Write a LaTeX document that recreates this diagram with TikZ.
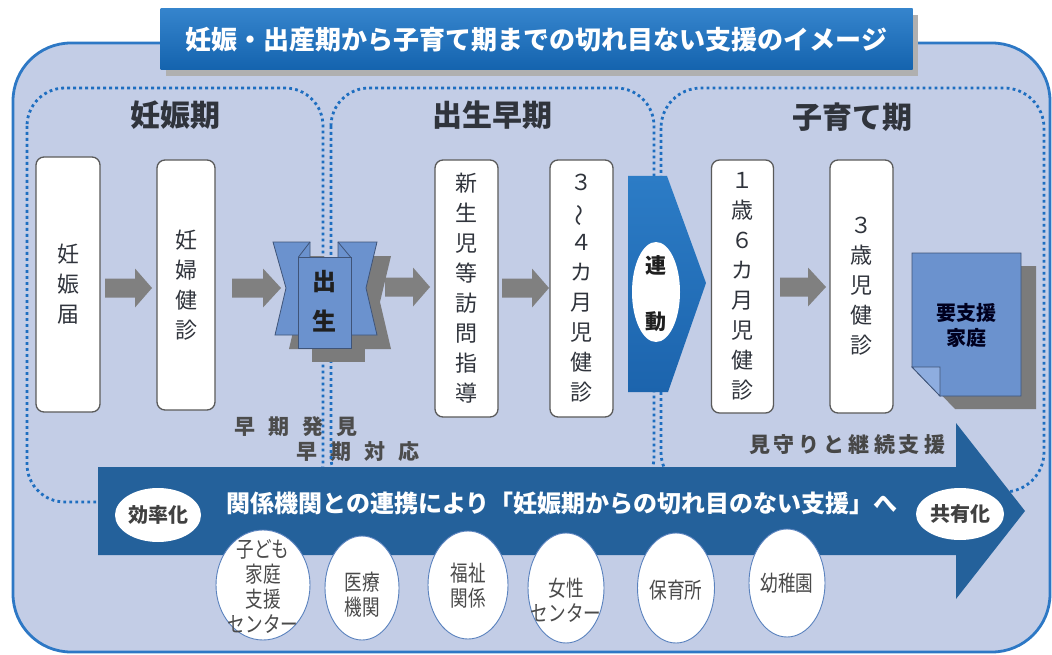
\documentclass[tikz,border=0pt]{standalone}
\usepackage{fontspec}
\usepackage{graphicx}
\setmainfont{Noto Sans CJK JP}
\newfontfamily\condjp[FakeStretch=0.8]{Noto Sans CJK JP}
\usetikzlibrary{shapes.geometric,calc}
\definecolor{bglight}{HTML}{C3CDE6}
\definecolor{outerblue}{HTML}{2D78C5}
\definecolor{dotblue}{HTML}{1E6EC0}
\definecolor{arrowblue}{HTML}{24619B}
\definecolor{titletop}{HTML}{3584CC}
\definecolor{titlebot}{HTML}{1463AE}
\definecolor{grayarrow}{HTML}{808080}
\definecolor{shapeblue}{HTML}{6B92CE}
\definecolor{shapeline}{HTML}{3F5478}
\definecolor{boxline}{HTML}{5A5A5A}
\definecolor{txtdark}{HTML}{30343C}
\definecolor{shadowgray}{HTML}{7B7B7B}
\definecolor{orgline}{HTML}{5A82BE}
\definecolor{orgtext}{HTML}{4A4A4A}
\definecolor{foldblue}{HTML}{8EADDF}
\definecolor{chevtop}{HTML}{2C7CC6}
\definecolor{chevbot}{HTML}{1C64AD}
\newcommand\grayarrow[4]{\fill[grayarrow] (#1,#4-9.5) -- (#2,#4-9.5) -- (#2,#4-19.5) -- (#3,#4) -- (#2,#4+19.5) -- (#2,#4+9.5) -- (#1,#4+9.5) -- cycle;}
\newcommand\ks{\kern4pt}
\newcommand\kw{\kern13pt}
\begin{document}
\begin{tikzpicture}[x=1pt,y=-1pt,
 wbox/.style={draw=boxline, line width=1.3pt, fill=white, rounded corners=8pt, inner sep=0pt, align=center, font=\fontsize{22}{30}\selectfont, text=txtdark},
 phasebox/.style={draw=dotblue, line width=2.8pt, dash pattern=on 2.8pt off 3.2pt},
 ptitle/.style={font=\fontsize{30}{32}\selectfont\bfseries, text=txtdark, inner sep=0pt},
 orgell/.style={ellipse, draw=orgline, line width=0.9pt, fill=white, inner sep=0pt},
 orgtxt/.style={align=center, font=\condjp\fontsize{22}{25}\selectfont, text=orgtext, inner sep=0pt},
 wellipse/.style={ellipse, fill=white, inner sep=0pt},
 boldlabel/.style={font=\fontsize{21}{25}\selectfont\bfseries, text=black!72, inner sep=0pt, align=center},
]
\useasboundingbox (0,0) rectangle (1052,655);
\fill[white] (0,0) rectangle (1052,655);
% outer frame
\draw[line width=2.8pt, draw=outerblue, fill=bglight, rounded corners=58pt] (13,43) rectangle (1050,652);
% title
\fill[shadowgray!60] (166,15) rectangle (918,76);
\node[top color=titletop, bottom color=titlebot, minimum width=752pt, minimum height=61pt, inner sep=0pt, text=white, font=\fontsize{26}{30}\selectfont\bfseries] (title) at (536.5,39.5) {妊娠・出産期から子育て期までの切れ目ない支援のイメージ};
% labels under the dots
\node[boldlabel, text=black!70] (hakken) at (296,427) {早\kw 期\kw 発\kw 見};
\node[boldlabel, text=black!70] (taiou) at (358,452) {早\kw 期\kw 対\kw 応};
\node[font=\fontsize{21}{25}\selectfont\bfseries, text=black!72, inner sep=0pt] (mimamori) at (847,445) {見\ks 守\ks り\ks と\ks 継\ks 続\ks 支\ks 援};
% phase boxes
\draw[phasebox, rounded corners=38pt] (27,88) rectangle (323,502);
\draw[phasebox, rounded corners=38pt] (331,88) rectangle (654,495);
\draw[phasebox, rounded corners=40pt] (661,88) rectangle (1044,492);
\node[ptitle] (p1) at (175,115) {妊娠期};
\node[ptitle] (p2) at (492,115) {出生早期};
\node[ptitle] (p3) at (852,117) {子育て期};
% white boxes
\node[wbox, minimum width=64pt, minimum height=255pt] (b1) at (68,284.5) {妊\\娠\\届};
\node[wbox, minimum width=58pt, minimum height=250pt] (b2) at (186,285) {妊\\婦\\健\\診};
\node[wbox, minimum width=63pt, minimum height=257pt] (b3) at (466.5,288.5) {新\\生\\児\\等\\訪\\問\\指\\導};
\node[wbox, minimum width=63pt, minimum height=257pt] (b4) at (581.5,288.5) {３\\\rotatebox[origin=c]{90}{～}\\４\\カ\\月\\児\\健\\診};
\node[wbox, minimum width=62pt, minimum height=253pt] (b5) at (742.5,286.5) {１\\歳\\６\\カ\\月\\児\\健\\診};
\node[wbox, minimum width=63pt, minimum height=253pt] (b6) at (861.5,286.5) {３\\歳\\児\\健\\診};
% gray arrows
\grayarrow{105}{135}{152}{288}
\grayarrow{232}{263}{281}{288}
\grayarrow{385}{413}{430}{287}
\grayarrow{502}{532}{549}{288}
\grayarrow{780}{808}{826}{287}
% birth shape
\begin{scope}[shift={(14,14)}]
\fill[shadowgray] (273,242) -- (310,242) -- (310,335) -- (275,335) -- (286,288) -- cycle;
\fill[shadowgray] (338,242) -- (377,242) -- (366,288) -- (377,335) -- (338,335) -- cycle;
\fill[shadowgray] (298,257) rectangle (351,348);
\end{scope}
\draw[fill=shapeblue, draw=shapeline, line width=0.8pt] (273,242) -- (310,242) -- (310,335) -- (275,335) -- (286,288) -- cycle;
\draw[fill=shapeblue, draw=shapeline, line width=0.8pt] (338,242) -- (377,242) -- (366,288) -- (377,335) -- (338,335) -- cycle;
\draw[fill=shapeblue, draw=shapeline, line width=0.8pt] (298,257) rectangle (351,348);
\draw[draw=shapeline, line width=0.8pt] (298.5,257) -- (310,242);
\draw[draw=shapeline, line width=0.8pt] (350.5,257) -- (338,242);
\node[font=\fontsize{24}{40}\selectfont\bfseries, align=center, text=black!88, inner sep=0pt] (birth) at (324.5,301) {出\\生};
% rendo chevron
\shade[top color=chevtop, bottom color=chevbot] (628,176) -- (667,176) -- (706,283) -- (668,392) -- (628,392) -- cycle;
\node[wellipse, minimum width=48pt, minimum height=100pt] (rendo) at (656,292) {};
\node[font=\fontsize{21}{56}\selectfont\bfseries, align=center, text=black!88, inner sep=0pt] (rendot) at (656,294) {連\\動};
% family needing support
\fill[shadowgray] (927,266) -- (1036,266) -- (1036,409) -- (955,409) -- (927,380) -- cycle;
\draw[fill=shapeblue, draw=shapeline, line width=0.8pt] (912,253) -- (1021,253) -- (1021,396) -- (940,396) -- (912,367) -- cycle;
\draw[fill=foldblue, draw=shapeline, line width=0.8pt] (912,367) -- (940,367) -- (940,396) -- cycle;
\node[font=\fontsize{20}{25}\selectfont\bfseries, align=center, text=black!70!blue!40!black, inner sep=0pt] (family) at (966,325.5) {要支援\\家庭};
% big arrow
\fill[arrowblue] (98,467) -- (956,467) -- (956,423) -- (1025,511) -- (956,599) -- (956,555) -- (98,555) -- cycle;
\node[text=white, font=\fontsize{24}{26}\selectfont\bfseries, inner sep=0pt] (flow) at (562,503) {関係機関との連携により「妊娠期からの切れ目のない支援」へ};
\node[wellipse, minimum width=86pt, minimum height=54pt] (eff) at (158,515) {};
\node[font=\fontsize{20}{24}\selectfont\bfseries, text=black!75, inner sep=0pt] (efft) at (158,515) {効率化};
\node[wellipse, minimum width=88pt, minimum height=52pt] (share) at (960,514) {};
\node[font=\fontsize{20}{24}\selectfont\bfseries, text=black!75, inner sep=0pt] (sharet) at (960,514) {共有化};
% organisations
\node[orgell, minimum width=94pt, minimum height=110pt] (o1) at (263,585) {};
\node[orgtxt] (o1t) at (263,587) {子ども\\家庭\\支援\\センター};
\node[orgell, minimum width=74pt, minimum height=104pt] (o2) at (362,588) {};
\node[orgtxt] (o2t) at (362,595) {医療\\機関};
\node[orgell, minimum width=80pt, minimum height=108pt] (o3) at (468,585) {};
\node[orgtxt] (o3t) at (468,586) {福祉\\関係};
\node[orgell, minimum width=76pt, minimum height=110pt] (o4) at (566,588) {};
\node[orgtxt] (o4t) at (566,600) {女性\\センター};
\node[orgell, minimum width=77pt, minimum height=110pt] (o5) at (676,588) {};
\node[orgtxt] (o5t) at (676,590) {保育所};
\node[orgell, minimum width=76pt, minimum height=108pt] (o6) at (787,583) {};
\node[orgtxt] (o6t) at (787,583) {幼稚園};
\end{tikzpicture}
\end{document}
